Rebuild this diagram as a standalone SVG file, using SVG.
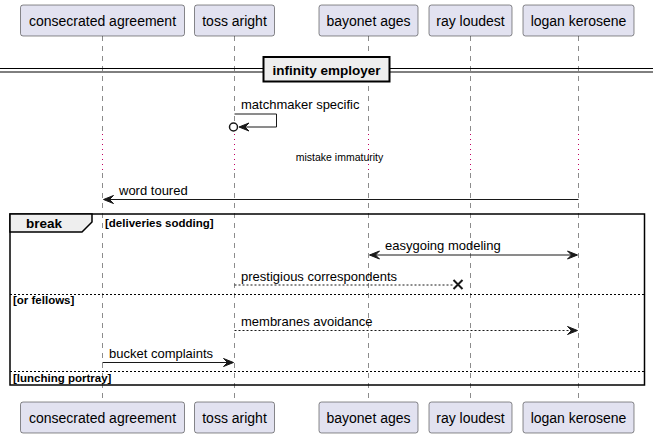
<svg xmlns="http://www.w3.org/2000/svg" width="660" height="438" viewBox="0 0 660 438">
<style>
text{font-family:"Liberation Sans",Arial,sans-serif;fill:#000}
.pbox{fill:#E2E2F0;stroke:#181818;stroke-width:0.5}
.pt{font-size:14px;text-anchor:middle}
.life{stroke:#181818;stroke-width:0.5;stroke-dasharray:5,5;fill:none}
.delay{stroke:#C00060;stroke-width:1;stroke-dasharray:1,4;fill:none}
.msg{stroke:#181818;stroke-width:1;fill:none}
.dash{stroke:#181818;stroke-width:1;stroke-dasharray:2,2;fill:none}
.ml{font-size:13px}
.head{fill:#181818;stroke:#181818;stroke-width:1}
.grp{fill:none;stroke:#000;stroke-width:1.5}
.sep{stroke:#000;stroke-width:1;stroke-dasharray:2,2}
.cond{font-size:11.5px;font-weight:bold}
</style>
<g id="lifelines">
<line class="life" x1="102.5" y1="36" x2="102.5" y2="133"/><line class="delay" x1="102.5" y1="134" x2="102.5" y2="173"/><line class="life" x1="102.5" y1="173" x2="102.5" y2="401"/>
<line class="life" x1="234.5" y1="36" x2="234.5" y2="133"/><line class="delay" x1="234.5" y1="134" x2="234.5" y2="173"/><line class="life" x1="234.5" y1="173" x2="234.5" y2="401"/>
<line class="life" x1="368.5" y1="36" x2="368.5" y2="133"/><line class="delay" x1="368.5" y1="134" x2="368.5" y2="173"/><line class="life" x1="368.5" y1="173" x2="368.5" y2="401"/>
<line class="life" x1="470.5" y1="36" x2="470.5" y2="133"/><line class="delay" x1="470.5" y1="134" x2="470.5" y2="173"/><line class="life" x1="470.5" y1="173" x2="470.5" y2="401"/>
<line class="life" x1="578.5" y1="36" x2="578.5" y2="133"/><line class="delay" x1="578.5" y1="134" x2="578.5" y2="173"/><line class="life" x1="578.5" y1="173" x2="578.5" y2="401"/>
</g>
<g id="p-consecrated-agreement">
<rect class="pbox" x="20.5" y="5" width="164" height="31" rx="2.5"/><text class="pt" x="102.5" y="25.5">consecrated agreement</text>
<rect class="pbox" x="20.5" y="402" width="164" height="31" rx="2.5"/><text class="pt" x="102.5" y="422.5">consecrated agreement</text>
</g>
<g id="p-toss-aright">
<rect class="pbox" x="194.5" y="5" width="80" height="31" rx="2.5"/><text class="pt" x="234.5" y="25.5">toss aright</text>
<rect class="pbox" x="194.5" y="402" width="80" height="31" rx="2.5"/><text class="pt" x="234.5" y="422.5">toss aright</text>
</g>
<g id="p-bayonet-ages">
<rect class="pbox" x="319" y="5" width="99" height="31" rx="2.5"/><text class="pt" x="368.5" y="25.5">bayonet ages</text>
<rect class="pbox" x="319" y="402" width="99" height="31" rx="2.5"/><text class="pt" x="368.5" y="422.5">bayonet ages</text>
</g>
<g id="p-ray-loudest">
<rect class="pbox" x="429" y="5" width="83" height="31" rx="2.5"/><text class="pt" x="470.5" y="25.5">ray loudest</text>
<rect class="pbox" x="429" y="402" width="83" height="31" rx="2.5"/><text class="pt" x="470.5" y="422.5">ray loudest</text>
</g>
<g id="p-logan-kerosene">
<rect class="pbox" x="523" y="5" width="111" height="31" rx="2.5"/><text class="pt" x="578.5" y="25.5">logan kerosene</text>
<rect class="pbox" x="523" y="402" width="111" height="31" rx="2.5"/><text class="pt" x="578.5" y="422.5">logan kerosene</text>
</g>
<g id="divider">
<line x1="0" y1="68.5" x2="653" y2="68.5" stroke="#000" stroke-width="1"/>
<line x1="0" y1="72" x2="653" y2="72" stroke="#000" stroke-width="1"/>
<rect x="263.5" y="57" width="126" height="24.5" fill="#EEEEEE" stroke="#000" stroke-width="2"/>
<text x="326.5" y="74.5" font-size="13.5" font-weight="bold" text-anchor="middle">infinity employer</text>
</g>
<g id="delay">
<text x="339.5" y="161" font-size="10.5" text-anchor="middle">mistake immaturity</text>
</g>
<g id="group-break">
<rect class="grp" x="10" y="214" width="634.5" height="171"/>
<polygon points="10,214 92,214 92,222 82,232 10,232" fill="#EEEEEE" stroke="#000" stroke-width="1.5"/>
<text x="26" y="228" font-size="13.5" font-weight="bold">break</text>
<text class="cond" x="105" y="227">[deliveries sodding]</text>
<line class="sep" x1="10" y1="294.5" x2="644.5" y2="294.5"/>
<text class="cond" x="13" y="304">[or fellows]</text>
<line class="sep" x1="10" y1="371.5" x2="644.5" y2="371.5"/>
<text class="cond" x="13" y="382">[lunching portray]</text>
</g>
<g id="connectors">
<polyline class="msg" points="234.5,114 276.5,114 276.5,127 240,127"/>
<circle cx="233.5" cy="127" r="4" fill="#fff" stroke="#181818" stroke-width="1.5"/>
<polygon class="head" points="239,127 249,123 245,127 249,131"/>
<text class="ml" x="241" y="109">matchmaker specific</text>

<line class="msg" x1="104" y1="199.5" x2="578.5" y2="199.5"/>
<polygon class="head" points="103.5,199.5 113.5,195.5 109.5,199.5 113.5,203.5"/>
<text class="ml" x="119" y="195">word toured</text>

<line class="msg" x1="370" y1="255" x2="577" y2="255"/>
<polygon class="head" points="369.5,255 379.5,251 375.5,255 379.5,259"/>
<polygon class="head" points="577.5,255 567.5,251 571.5,255 567.5,259"/>
<text class="ml" x="385" y="250">easygoing modeling</text>

<line class="dash" x1="234.5" y1="285" x2="454" y2="285"/>
<path d="M453.5,280 L462.5,289 M462.5,280 L453.5,289" stroke="#181818" stroke-width="2" fill="none"/>
<text class="ml" x="241" y="281">prestigious correspondents</text>

<line class="dash" x1="234.5" y1="330.5" x2="577" y2="330.5"/>
<polygon class="head" points="577.5,330.5 567.5,326.5 571.5,330.5 567.5,334.5"/>
<text class="ml" x="241" y="326">membranes avoidance</text>

<line class="msg" x1="102.5" y1="362.5" x2="233" y2="362.5"/>
<polygon class="head" points="233.5,362.5 223.5,358.5 227.5,362.5 223.5,366.5"/>
<text class="ml" x="109" y="358">bucket complaints</text>
</g>
</svg>
